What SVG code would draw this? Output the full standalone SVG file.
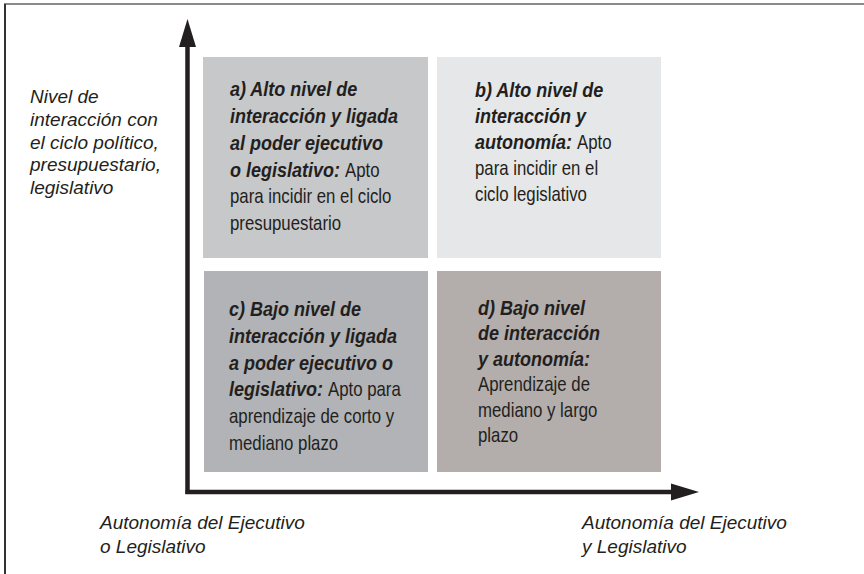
<svg xmlns="http://www.w3.org/2000/svg" width="864" height="574" viewBox="0 0 864 574">
  <style>
    .t { font-family: "Liberation Sans", Arial, sans-serif; font-size: 20px; fill: #231f20; }
    .b { font-family: "Liberation Sans", Arial, sans-serif; font-size: 20px; fill: #231f20; font-weight: bold; font-style: italic; }
    .lab { font-family: "Liberation Sans", Arial, sans-serif; font-size: 19px; font-style: italic; fill: #231f20; }
    .axis { stroke: #231f20; stroke-width: 4.5; fill: none; marker-end: url(#ah); }
  </style>
  <defs>
    <marker id="ah" markerUnits="userSpaceOnUse" markerWidth="28" markerHeight="18" viewBox="0 -9 28 18" refX="0" refY="0" orient="auto">
      <path d="M0,-8.5 L28,0 L0,8.5 Z" fill="#231f20"/>
    </marker>
  </defs>
  <rect width="864" height="574" fill="#ffffff"/>
  <g id="frame">
    <line x1="4" y1="4" x2="864" y2="4" stroke="#8a8a8a" stroke-width="2"/>
    <line x1="5" y1="4" x2="5" y2="574" stroke="#333333" stroke-width="2"/>
  </g>
  <g id="connectors">
    <line class="axis" x1="187.5" y1="494" x2="187.5" y2="47"/>
    <line class="axis" x1="185.5" y1="492" x2="671" y2="492"/>
  </g>
  <g id="node-a">
    <rect x="203" y="57" width="225" height="201" fill="#c7c8ca"/>
    <text class="b" transform="translate(230 96) scale(0.9 1)">a) Alto nivel de</text>
    <text class="b" transform="translate(230 123) scale(0.9 1)">interacción y ligada</text>
    <text class="b" transform="translate(230 150) scale(0.9 1)">al poder ejecutivo</text>
    <text class="b" transform="translate(230 177) scale(0.9 1)">o legislativo:</text>
    <text class="t" transform="translate(345 177) scale(0.84 1)">Apto</text>
    <text class="t" transform="translate(230 203) scale(0.84 1)">para incidir en el ciclo</text>
    <text class="t" transform="translate(230 230) scale(0.84 1)">presupuestario</text>
  </g>
  <g id="node-b">
    <rect x="437" y="57" width="224" height="201" fill="#e6e7e8"/>
    <text class="b" transform="translate(475 97) scale(0.9 1)">b) Alto nivel de</text>
    <text class="b" transform="translate(475 123) scale(0.9 1)">interacción y</text>
    <text class="b" transform="translate(475 149) scale(0.9 1)">autonomía:</text>
    <text class="t" transform="translate(577 149) scale(0.84 1)">Apto</text>
    <text class="t" transform="translate(475 175) scale(0.84 1)">para incidir en el</text>
    <text class="t" transform="translate(475 201) scale(0.84 1)">ciclo legislativo</text>
  </g>
  <g id="node-c">
    <rect x="204" y="271" width="224" height="201" fill="#b1b3b6"/>
    <text class="b" transform="translate(229 316) scale(0.9 1)">c) Bajo nivel de</text>
    <text class="b" transform="translate(229 343) scale(0.9 1)">interacción y ligada</text>
    <text class="b" transform="translate(229 370) scale(0.9 1)">a poder ejecutivo o</text>
    <text class="b" transform="translate(229 396) scale(0.9 1)">legislativo:</text>
    <text class="t" transform="translate(328 396) scale(0.84 1)">Apto para</text>
    <text class="t" transform="translate(229 423) scale(0.84 1)">aprendizaje de corto y</text>
    <text class="t" transform="translate(229 450) scale(0.84 1)">mediano plazo</text>
  </g>
  <g id="node-d">
    <rect x="437" y="271" width="224" height="201" fill="#b3aeab"/>
    <text class="b" transform="translate(478 315) scale(0.9 1)">d) Bajo nivel</text>
    <text class="b" transform="translate(478 340) scale(0.9 1)">de interacción</text>
    <text class="b" transform="translate(478 366) scale(0.9 1)">y autonomía:</text>
    <text class="t" transform="translate(478 391) scale(0.84 1)">Aprendizaje de</text>
    <text class="t" transform="translate(478 417) scale(0.84 1)">mediano y largo</text>
    <text class="t" transform="translate(478 442) scale(0.84 1)">plazo</text>
  </g>
  <g id="label-y">
    <text class="lab" x="30" y="103">Nivel de</text>
    <text class="lab" x="30" y="126">interacción con</text>
    <text class="lab" x="30" y="149">el ciclo político,</text>
    <text class="lab" x="30" y="171">presupuestario,</text>
    <text class="lab" x="30" y="194">legislativo</text>
  </g>
  <g id="label-x-left">
    <text class="lab" x="100" y="529">Autonomía del Ejecutivo</text>
    <text class="lab" x="100" y="553">o Legislativo</text>
  </g>
  <g id="label-x-right">
    <text class="lab" x="582" y="529">Autonomía del Ejecutivo</text>
    <text class="lab" x="582" y="553">y Legislativo</text>
  </g>
</svg>
